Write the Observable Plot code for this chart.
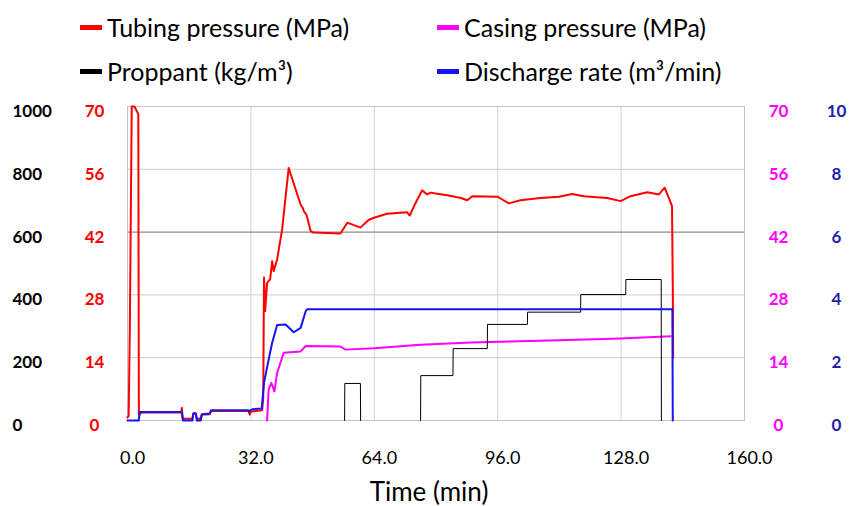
<!DOCTYPE html>
<html><head><meta charset="utf-8">
<script src="https://cdn.jsdelivr.net/npm/d3@7"></script>
<script src="https://cdn.jsdelivr.net/npm/@observablehq/plot@0.6"></script>
<style>
body{margin:0;background:#fff;}
#wrap{position:relative;width:850px;height:506px;font-family:Lato,sans-serif;}
#wrap svg{position:absolute;left:0;top:0;}
#legend{position:absolute;left:80px;top:5px;display:grid;grid-template-columns:357px 320px;grid-auto-rows:44px;z-index:2;}
.item{display:flex;align-items:center;font-size:25px;color:#000;white-space:nowrap;}
.sw{display:inline-block;width:22px;height:5px;margin-right:5px;}
</style></head><body><div id="wrap"><div id="legend"></div></div>
<script>
// ---- data ----
const seriesNames = ["Tubing pressure (MPa)", "Casing pressure (MPa)", "Proppant (kg/m³)", "Discharge rate (m³/min)"];
const seriesColors = ["#ff0000", "#ff00ff", "#000000", "#1414f5"];

const xTicks = [0, 32, 64, 96, 128, 160];
const pressureTicks = [0, 14, 28, 42, 56, 70];

const tubingTime = [0, 0.3, 0.6, 1.1, 1.8, 2.8, 2.95, 3.3, 3.5, 13.9, 14.1, 14.3, 16.8, 17.1, 17.7, 18.0, 18.9, 19.2, 21.3, 21.7, 31.4, 31.7, 32.0, 34.9, 35.2, 35.4, 35.7, 36.2, 37.0, 37.5, 37.9, 38.8, 40.1, 41.8, 44.9, 45.5, 45.7, 46.4, 47.5, 48.2, 55.2, 57.0, 60.4, 62.5, 63.9, 67.3, 72.5, 73.2, 74.7, 76.4, 77.7, 78.6, 79.9, 82.9, 86.5, 88.1, 89.4, 95.9, 97.5, 98.9, 101.9, 107.1, 111.9, 115.3, 118.3, 124.4, 127.9, 130.4, 134.8, 137.8, 139.3, 140.4, 141.2, 141.4, 141.5];
const tubingMPa = [0.7, 1, 20, 70, 70, 68.3, 1.3, 1.5, 1.8, 1.8, 2.8, 0.4, 0.4, 1.6, 1.6, 0.4, 0.4, 1.3, 1.4, 2.1, 2.1, 1.3, 2.0, 2.3, 5, 31.9, 24.4, 30.7, 31.5, 35.5, 33.3, 35.9, 42.6, 56.3, 48.1, 47.3, 46.7, 45.9, 42.2, 41.9, 41.7, 44.1, 43.0, 44.7, 45.2, 46.1, 46.4, 45.7, 48.5, 51.3, 50.4, 50.8, 50.6, 50.2, 49.6, 49.1, 50.0, 49.9, 49.1, 48.4, 49.1, 49.6, 49.9, 50.5, 50.0, 49.6, 48.9, 50.0, 50.9, 50.4, 51.9, 49.6, 47.8, 30, 14];

const casingTime = [36.2, 36.6, 37.3, 38.1, 38.8, 40.5, 44.9, 46.2, 55.2, 56.5, 63.9, 76.0, 89.0, 107.0, 128.0, 140.8];
const casingMPa = [0, 6.9, 8.4, 6.5, 10.6, 15.1, 15.4, 16.6, 16.5, 15.8, 16.1, 16.9, 17.4, 17.8, 18.3, 18.8];

const proppantTime = [56.3, 56.35, 60.4, 60.45, 68, 76.0, 76.05, 84.4, 84.45, 93.3, 93.35, 103.7, 103.75, 117.5, 117.55, 129.2, 129.25, 138.4, 138.45];
const proppantKg = [0, 118, 118, 0, null, 0, 143, 143, 229, 229, 306, 306, 345, 345, 401, 401, 449, 449, 0];

const rateTime = [0, 2.9, 3.2, 14.1, 14.4, 16.8, 17.1, 17.7, 18.0, 19.0, 19.3, 21.3, 21.7, 31.3, 31.6, 31.9, 32.5, 34.8, 35.4, 36.6, 37.5, 38.8, 41.0, 43.1, 44.9, 46.2, 46.6, 141.3, 141.4];
const rateM3 = [0, 0, 0.27, 0.27, 0, 0, 0.22, 0.22, 0, 0, 0.2, 0.22, 0.33, 0.33, 0.28, 0.33, 0.36, 0.38, 1.2, 1.94, 2.47, 3.04, 3.06, 2.81, 2.95, 3.48, 3.54, 3.54, 0];

// ---- scales: everything is drawn on the pressure scale (0–70) ----
const proppantToP = 70 / 1000;
const rateToP = 70 / 10;
const rows = (ts, vs, k) => ts.map((t, i) => ({t, v: vs[i] == null ? NaN : vs[i] * k}));
const tubing = rows(tubingTime, tubingMPa, 1);
const casing = rows(casingTime, casingMPa, 1);
const proppant = rows(proppantTime, proppantKg, proppantToP);
const rate = rows(rateTime, rateM3, rateToP);

// legend
const legend = document.getElementById("legend");
seriesNames.forEach((n, i) => {
  const d = document.createElement("div");
  d.className = "item";
  d.innerHTML = `<span class="sw" style="background:${seriesColors[i]}"></span><span>${n}</span>`;
  legend.appendChild(d);
});

const tickFont = {fontFamily: "Lato, sans-serif", fontSize: 17, fontWeight: "bold"};

const chart = Plot.plot({
  width: 850, height: 506,
  marginTop: 106, marginBottom: 86, marginLeft: 127, marginRight: 106,
  style: {fontFamily: "Lato, sans-serif", background: "white", overflow: "visible"},
  x: {domain: [0, 160], label: null},
  y: {domain: [0, 70], label: null},
  marks: [
    Plot.gridX(xTicks.slice(1, -1), {stroke: "#d4d4d4", strokeOpacity: 1}),
    Plot.gridY([14, 28, 56], {stroke: "#cdcdcd", strokeOpacity: 1}),
    Plot.gridY([42], {stroke: "#6f6f6f", strokeOpacity: 1}),
    Plot.frame({stroke: "#c4c4c4"}),
    Plot.line(tubing, {x: "t", y: "v", stroke: seriesColors[0], strokeWidth: 2}),
    Plot.line(casing, {x: "t", y: "v", stroke: seriesColors[1], strokeWidth: 2}),
    Plot.line(proppant, {x: "t", y: "v", stroke: seriesColors[2], strokeWidth: 1}),
    Plot.line(rate, {x: "t", y: "v", stroke: seriesColors[3], strokeWidth: 2}),
    Plot.axisX(xTicks, {tickSize: 0, tickPadding: 31, dx: 5, tickFormat: d3.format(".1f"), fontSize: 18, fontFamily: "Lato, sans-serif", label: null, color: "#000"}),
    Plot.axisY(pressureTicks, {anchor: "left", tickSize: 0, tickPadding: 0, dx: -115, dy: 5, textAnchor: "start", tickFormat: d => String(Math.round(d / proppantToP)), color: "#000", label: null, ...tickFont}),
    Plot.axisY(pressureTicks, {anchor: "left", tickSize: 0, tickPadding: 0, dx: -33, dy: 5, textAnchor: "middle", tickFormat: d => String(d), color: "#ff0000", label: null, ...tickFont}),
    Plot.axisY(pressureTicks, {anchor: "right", tickSize: 0, tickPadding: 0, dx: 34, dy: 5, textAnchor: "middle", tickFormat: d => String(d), color: "#ff00ff", label: null, ...tickFont}),
    Plot.axisY(pressureTicks, {anchor: "right", tickSize: 0, tickPadding: 0, dx: 92, dy: 5, textAnchor: "middle", tickFormat: d => String(Math.round(d / rateToP)), color: "#1f1fa8", label: null, ...tickFont}),
    Plot.text(["Time (min)"], {text: d => d, frameAnchor: "bottom", dy: 80, dx: -7, fontSize: 26, fontFamily: "Lato, sans-serif", fill: "#000"})
  ]
});
document.getElementById("wrap").appendChild(chart);
</script>
</body></html>
